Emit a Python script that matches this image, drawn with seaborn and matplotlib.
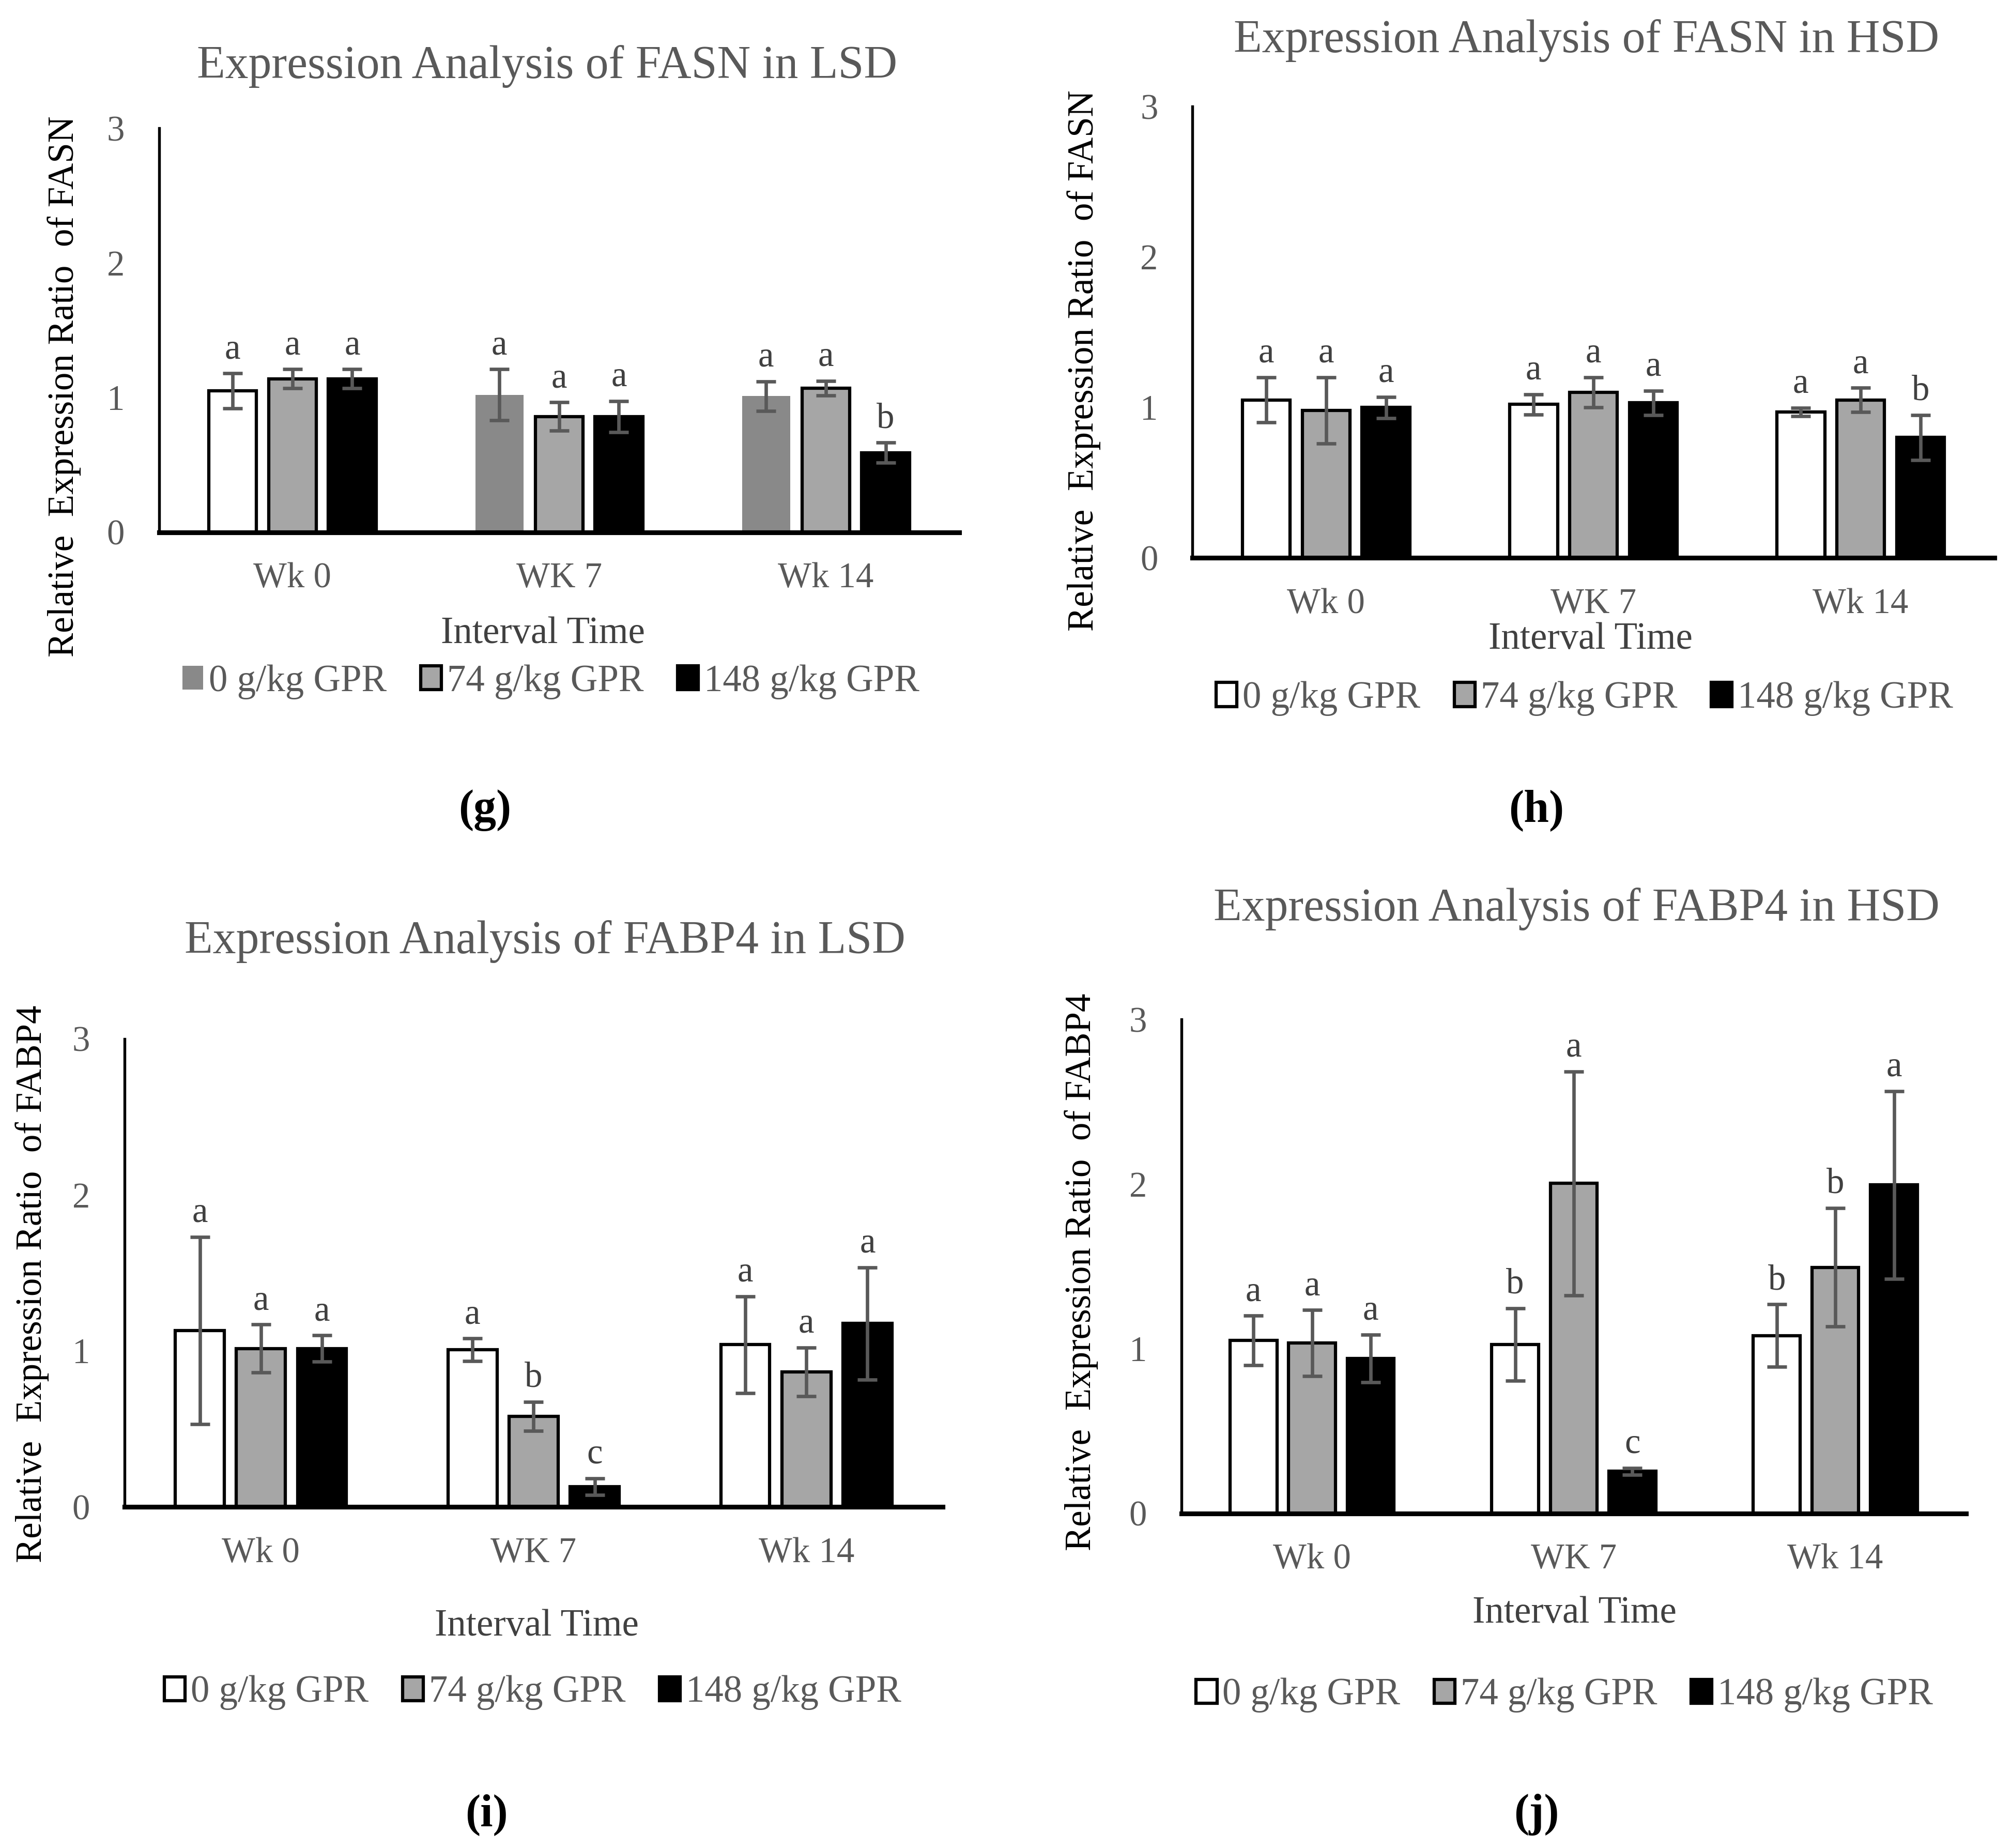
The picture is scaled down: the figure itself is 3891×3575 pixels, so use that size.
import numpy as np
import pandas as pd
import matplotlib.pyplot as plt
import seaborn as sns
from matplotlib.patches import Patch

weeks = ['Wk 0', 'WK 7', 'Wk 14']
doses = ['0 g/kg GPR', '74 g/kg GPR', '148 g/kg GPR']

# rows = weeks, columns = doses
fasn_lsd_mean = [[1.05, 1.14, 1.14], [1.02, 0.86, 0.86], [1.01, 1.07, 0.59]]
fasn_lsd_err = [[0.13, 0.07, 0.07], [0.19, 0.105, 0.115], [0.11, 0.055, 0.075]]
fasn_lsd_letters = [['a', 'a', 'a'], ['a', 'a', 'a'], ['a', 'a', 'b']]

fasn_hsd_mean = [[1.05, 0.98, 1.00], [1.02, 1.10, 1.03], [0.97, 1.05, 0.80]]
fasn_hsd_err = [[0.15, 0.22, 0.07], [0.067, 0.10, 0.08], [0.027, 0.08, 0.15]]
fasn_hsd_letters = [['a', 'a', 'a'], ['a', 'a', 'a'], ['a', 'a', 'b']]

fabp4_lsd_mean = [[1.13, 1.015, 1.015], [1.007, 0.58, 0.13], [1.04, 0.865, 1.175]]
fabp4_lsd_err = [[0.60, 0.153, 0.084], [0.072, 0.093, 0.053], [0.31, 0.157, 0.36]]
fabp4_lsd_letters = [['a', 'a', 'a'], ['a', 'b', 'c'], ['a', 'a', 'a']]

fabp4_hsd_mean = [[1.05, 1.035, 0.94], [1.025, 2.005, 0.255], [1.08, 1.495, 1.995]]
fabp4_hsd_err = [[0.15, 0.20, 0.145], [0.22, 0.68, 0.02], [0.19, 0.36, 0.57]]
fabp4_hsd_letters = [['a', 'a', 'a'], ['b', 'a', 'c'], ['b', 'b', 'a']]

sns.set_style('white')
plt.rcParams['font.family'] = ['Liberation Serif', 'DejaVu Serif']

GREY_TXT = '#595959'
DARK_TXT = '#404040'
fills = ['#FFFFFF', '#A6A6A6', '#000000']

fig = plt.figure(figsize=(12.97, 11.9167), dpi=300)


def draw_panel(rect, mean, err, letters, title, ylabel, txt, excel_grey=False):
    ax = fig.add_axes(rect)
    rows = []
    for i, w in enumerate(weeks):
        for j, d in enumerate(doses):
            rows.append({'week': w, 'dose': d, 'value': mean[i][j]})
    df = pd.DataFrame(rows)

    sns.barplot(data=df, x='week', y='value', hue='dose', order=weeks,
                hue_order=doses, palette=fills, saturation=1,
                edgecolor='black', linewidth=1.5, errorbar=None,
                width=0.672, gap=0.2, legend=False, ax=ax)

    bars = sorted(ax.patches, key=lambda p: p.get_x())
    for k, p in enumerate(bars):
        i, j = k // 3, k % 3
        if excel_grey and j == 0 and i > 0:
            p.set_facecolor('#898989')
            p.set_edgecolor('none')
        x = p.get_x() + p.get_width() / 2
        top = p.get_height()
        ax.errorbar(x, top, yerr=err[i][j], fmt='none', ecolor=GREY_TXT,
                    elinewidth=1.6, capsize=4.5, capthick=1.6, zorder=5)
        ax.annotate(letters[i][j], (x, top + err[i][j]), xytext=(0, 7),
                    textcoords='offset points', ha='center', va='baseline',
                    fontsize=16.5, color=DARK_TXT)

    ax.set_xlim(-0.5, 2.5)
    ax.set_ylim(0, 3)
    ax.set_yticks([0, 1, 2, 3])
    ax.set_xlabel('')
    ax.set_ylabel('')
    ax.tick_params(axis='both', length=0, labelsize=16.5, labelcolor=GREY_TXT)
    ax.tick_params(axis='y', pad=16)
    ax.tick_params(axis='x', pad=14)
    for s in ['top', 'right']:
        ax.spines[s].set_visible(False)
    ax.spines['left'].set_color('black')
    ax.spines['left'].set_linewidth(1.3)
    ax.spines['bottom'].set_color('black')
    ax.spines['bottom'].set_linewidth(2.2)
    ax.set_facecolor('white')

    fig.text(*txt['title'], title, ha='center', va='center', fontsize=21.5,
             color=GREY_TXT)
    fig.text(*txt['ylabel'], ylabel, ha='center', va='center', fontsize=17,
             rotation=90, color='black')
    fig.text(*txt['xlabel'], 'Interval Time', ha='center', va='center',
             fontsize=17.5, color=DARK_TXT)
    fig.text(*txt['tag'][:2], txt['tag'][2], ha='center', va='center',
             fontsize=21, fontweight='bold', color='black')

    handles = []
    for j, c in enumerate(fills):
        if excel_grey and j == 0:
            handles.append(Patch(facecolor='#898989', edgecolor='none'))
        else:
            handles.append(Patch(facecolor=c, edgecolor='black', linewidth=1.5))
    fig.legend(handles, doses, loc='center', bbox_to_anchor=txt['legend'],
               ncol=3, frameon=False, fontsize=17.5, handlelength=0.55,
               handleheight=0.6, handletextpad=0.15, columnspacing=0.9,
               labelcolor=GREY_TXT)
    return ax


draw_panel([0.0791, 0.712, 0.3979, 0.2186], fasn_lsd_mean, fasn_lsd_err,
           fasn_lsd_letters, 'Expression Analysis of FASN in LSD',
           'Relative  Expression Ratio  of FASN',
           {'title': (0.272, 0.964), 'ylabel': (0.032, 0.791),
            'xlabel': (0.270, 0.657), 'legend': (0.274, 0.631),
            'tag': (0.241, 0.5614, '(g)')}, excel_grey=True)

draw_panel([0.593, 0.6981, 0.3987, 0.2443], fasn_hsd_mean, fasn_hsd_err,
           fasn_hsd_letters, 'Expression Analysis of FASN in HSD',
           'Relative  Expression Ratio  of FASN',
           {'title': (0.789, 0.978), 'ylabel': (0.539, 0.805),
            'xlabel': (0.791, 0.654), 'legend': (0.788, 0.622),
            'tag': (0.764, 0.5614, '(h)')})

draw_panel([0.0619, 0.1846, 0.4069, 0.2533], fabp4_lsd_mean, fabp4_lsd_err,
           fabp4_lsd_letters, 'Expression Analysis of FABP4 in LSD',
           'Relative  Expression Ratio  of FABP4',
           {'title': (0.271, 0.4906), 'ylabel': (0.016, 0.3053),
            'xlabel': (0.267, 0.120), 'legend': (0.265, 0.084),
            'tag': (0.242, 0.018, '(i)')})

draw_panel([0.5874, 0.1811, 0.3903, 0.2672], fabp4_hsd_mean, fabp4_hsd_err,
           fabp4_hsd_letters, 'Expression Analysis of FABP4 in HSD',
           'Relative  Expression Ratio  of FABP4',
           {'title': (0.784, 0.508), 'ylabel': (0.5376, 0.3116),
            'xlabel': (0.783, 0.127), 'legend': (0.778, 0.0826),
            'tag': (0.764, 0.018, '(j)')})

fig.savefig('out.png', dpi=300, facecolor='white')
